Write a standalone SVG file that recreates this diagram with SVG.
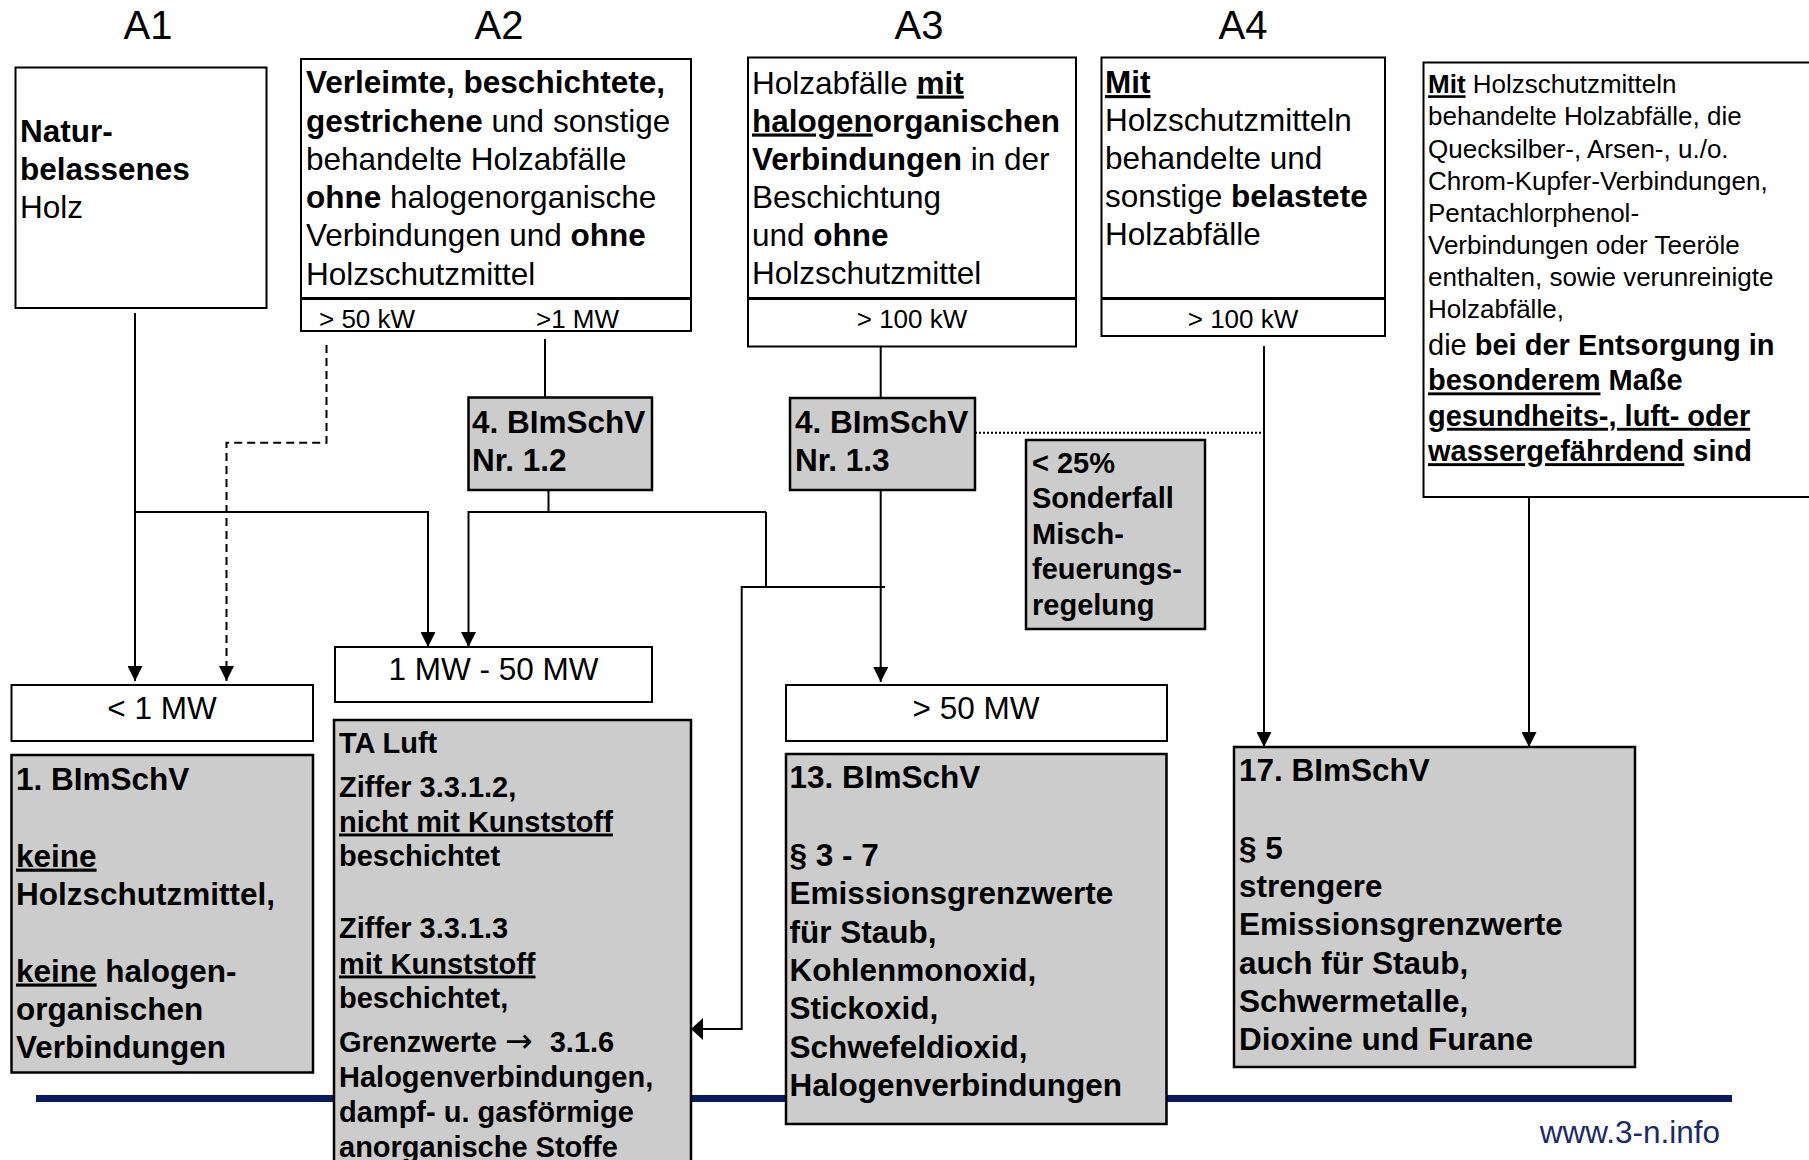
<svg xmlns="http://www.w3.org/2000/svg" width="1809" height="1160" viewBox="0 0 1809 1160">
<style>
text{font-family:"Liberation Sans",Arial,sans-serif;fill:#000}
.t{font-size:31.5px}
.s{font-size:26px}
.m{font-size:29px}
.h{font-size:40px}
.b{font-weight:bold}
.u{text-decoration:underline}
.box{fill:#fff;stroke:#000;stroke-width:2}
.gbox{fill:#cccccc;stroke:#000;stroke-width:2.5}
.div{stroke:#000;stroke-width:3}
.ln{fill:none;stroke:#000;stroke-width:2}
.dash{stroke-dasharray:8,5}
.dot{stroke-dasharray:2,2}
</style>
<defs>
<marker id="arr" markerUnits="userSpaceOnUse" markerWidth="15" markerHeight="15" viewBox="0 0 15 15" refX="15" refY="7.5" orient="auto"><path d="M0,0 L15,7.5 L0,15 z" fill="#000"/></marker>
<marker id="arrL" markerUnits="userSpaceOnUse" markerWidth="12" markerHeight="22" viewBox="0 0 12 22" refX="12" refY="11" orient="auto"><path d="M0,0 L12,11 L0,22 z" fill="#000"/></marker>
</defs>
<rect x="0" y="0" width="1809" height="1160" fill="#fff"/>
<g id="titles">
<text class="h" x="148" y="38.5" text-anchor="middle">A1</text>
<text class="h" x="499" y="38.5" text-anchor="middle">A2</text>
<text class="h" x="919" y="38.5" text-anchor="middle">A3</text>
<text class="h" x="1243" y="38.5" text-anchor="middle">A4</text>
</g>
<rect id="footer-line" x="36" y="1095" width="1696" height="7" fill="#0c1a5e"/>
<g id="connectors">
<path class="ln" d="M135,313 V681" marker-end="url(#arr)"/>
<path class="ln" d="M135,512 H428 V647" marker-end="url(#arr)"/>
<path class="ln dash" d="M326.5,345 V442.7 H226.5 V681" marker-end="url(#arr)"/>
<path class="ln" d="M545,339 V397"/>
<path class="ln" d="M548.5,490 V512"/>
<path class="ln" d="M766,512 H468.5 V647" marker-end="url(#arr)"/>
<path class="ln" d="M766,512 V587"/>
<path class="ln" d="M741.7,587 H885"/>
<path class="ln" d="M741.7,586 V1029 H691" marker-end="url(#arrL)"/>
<path class="ln" d="M880.7,338 V398"/>
<path class="ln" d="M880.7,490 V682" marker-end="url(#arr)"/>
<path class="ln dot" d="M975,432.7 H1264"/>
<path class="ln" d="M1264,346 V747" marker-end="url(#arr)"/>
<path class="ln" d="M1529,497 V747" marker-end="url(#arr)"/>
</g>
<g id="a1">
<rect class="box" x="15.5" y="67.5" width="251" height="240.5"/>
<text class="t b" x="20" y="142">Natur-</text>
<text class="t b" x="20" y="180">belassenes</text>
<text class="t" x="20" y="218">Holz</text>
</g>
<g id="a2">
<rect class="box" x="301" y="59" width="390" height="272"/>
<line class="div" x1="301" y1="298.5" x2="691" y2="298.5"/>
<text class="t b" x="306" y="93.2">Verleimte, beschichtete,</text>
<text class="t" x="306" y="131.5"><tspan class="b">gestrichene</tspan> und sonstige</text>
<text class="t" x="306" y="169.8">behandelte Holzabfälle</text>
<text class="t" x="306" y="208.1"><tspan class="b">ohne</tspan> halogenorganische</text>
<text class="t" x="306" y="246.4">Verbindungen und <tspan class="b">ohne</tspan></text>
<text class="t" x="306" y="284.7">Holzschutzmittel</text>
<text class="s" x="319" y="328">&gt; 50 kW</text>
<text class="s" x="536" y="328">&gt;1 MW</text>
</g>
<g id="a3">
<rect class="box" x="748" y="57.5" width="328" height="289"/>
<line class="div" x1="748" y1="298.5" x2="1076" y2="298.5"/>
<text class="t" x="752" y="93.5">Holzabfälle <tspan class="b u">mit</tspan></text>
<text class="t b" x="752" y="131.5"><tspan class="u">halogen</tspan>organischen</text>
<text class="t" x="752" y="169.5"><tspan class="b">Verbindungen</tspan> in der</text>
<text class="t" x="752" y="207.8">Beschichtung</text>
<text class="t" x="752" y="246">und <tspan class="b">ohne</tspan></text>
<text class="t" x="752" y="284">Holzschutzmittel</text>
<text class="s" x="912" y="328" text-anchor="middle">&gt; 100 kW</text>
</g>
<g id="a4">
<rect class="box" x="1101.5" y="57.5" width="283.5" height="278.5"/>
<line class="div" x1="1101.5" y1="298.5" x2="1385" y2="298.5"/>
<text class="t b u" x="1105" y="93">Mit</text>
<text class="t" x="1105" y="131">Holzschutzmitteln</text>
<text class="t" x="1105" y="168.8">behandelte und</text>
<text class="t" x="1105" y="207">sonstige <tspan class="b">belastete</tspan></text>
<text class="t" x="1105" y="245">Holzabfälle</text>
<text class="s" x="1243" y="328" text-anchor="middle">&gt; 100 kW</text>
</g>
<g id="a5">
<rect class="box" x="1423.5" y="62.5" width="400" height="434.5"/>
<text class="s" x="1428" y="93.3"><tspan class="b u">Mit</tspan> Holzschutzmitteln</text>
<text class="s" x="1428" y="125.4">behandelte Holzabfälle, die</text>
<text class="s" x="1428" y="157.5">Quecksilber-, Arsen-, u./o.</text>
<text class="s" x="1428" y="189.6">Chrom-Kupfer-Verbindungen,</text>
<text class="s" x="1428" y="221.7">Pentachlorphenol-</text>
<text class="s" x="1428" y="253.8">Verbindungen oder Teeröle</text>
<text class="s" x="1428" y="285.9">enthalten, sowie verunreinigte</text>
<text class="s" x="1428" y="318">Holzabfälle,</text>
<text class="m" x="1428" y="355">die <tspan class="b">bei der Entsorgung in</tspan></text>
<text class="m b" x="1428" y="390.4"><tspan class="u">besonderem</tspan> Maße</text>
<text class="m b u" x="1428" y="425.8">gesundheits-, luft- oder</text>
<text class="m b" x="1428" y="461.2"><tspan class="u">wassergefährdend</tspan> sind</text>
</g>
<g id="bimschv4-12">
<rect class="gbox" x="468.5" y="397.5" width="183.5" height="92.5"/>
<text class="t b" x="472" y="432.7">4. BImSchV</text>
<text class="t b" x="472" y="471">Nr. 1.2</text>
</g>
<g id="bimschv4-13">
<rect class="gbox" x="790" y="398" width="185" height="92"/>
<text class="t b" x="795" y="432.5">4. BImSchV</text>
<text class="t b" x="795" y="470.5">Nr. 1.3</text>
</g>
<g id="sonderfall">
<rect class="gbox" x="1026" y="440" width="179" height="189"/>
<text class="m b" x="1032" y="472.7">&lt; 25%</text>
<text class="m b" x="1032" y="508.2">Sonderfall</text>
<text class="m b" x="1032" y="543.7">Misch-</text>
<text class="m b" x="1032" y="579.2">feuerungs-</text>
<text class="m b" x="1032" y="614.7">regelung</text>
</g>
<g id="lt1mw">
<rect class="box" x="11.5" y="685" width="301.5" height="56"/>
<text class="t" x="162" y="719" text-anchor="middle">&lt; 1 MW</text>
</g>
<g id="mw1-50">
<rect class="box" x="335" y="647" width="317" height="55"/>
<text class="t" x="493.5" y="680" text-anchor="middle">1 MW - 50 MW</text>
</g>
<g id="gt50mw">
<rect class="box" x="786" y="685" width="381" height="56"/>
<text class="t" x="976" y="719" text-anchor="middle">&gt; 50 MW</text>
</g>
<g id="bimschv1">
<rect class="gbox" x="11.5" y="755" width="301.5" height="317.5"/>
<text class="t b" x="16" y="790">1. BImSchV</text>
<text class="t b u" x="16" y="866.6">keine</text>
<text class="t b" x="16" y="905">Holzschutzmittel,</text>
<text class="t b" x="16" y="981.5"><tspan class="u">keine</tspan> halogen-</text>
<text class="t b" x="16" y="1019.8">organischen</text>
<text class="t b" x="16" y="1058">Verbindungen</text>
</g>
<g id="taluft">
<rect class="gbox" x="334" y="720" width="357" height="460"/>
<text class="m b" x="339" y="753">TA Luft</text>
<text class="m b" x="339" y="797">Ziffer 3.3.1.2,</text>
<text class="m b u" x="339" y="831.5">nicht mit Kunststoff</text>
<text class="m b" x="339" y="866">beschichtet</text>
<text class="m b" x="339" y="938">Ziffer 3.3.1.3</text>
<text class="m b u" x="339" y="973.5">mit Kunststoff</text>
<text class="m b" x="339" y="1008">beschichtet,</text>
<text class="m b" x="339" y="1051.5">Grenzwerte <tspan style="font-family:'DejaVu Sans',sans-serif;font-weight:normal;font-size:33px">→</tspan> <tspan dx="9">3.1.6</tspan></text>
<text class="m b" x="339" y="1086.5">Halogenverbindungen,</text>
<text class="m b" x="339" y="1122">dampf- u. gasförmige</text>
<text class="m b" x="339" y="1157">anorganische Stoffe</text>
</g>
<g id="bimschv13">
<rect class="gbox" x="786" y="754" width="380.5" height="370"/>
<text class="t b" x="789.5" y="788">13. BImSchV</text>
<text class="t b" x="789.5" y="866">§ 3 - 7</text>
<text class="t b" x="789.5" y="904.3">Emissionsgrenzwerte</text>
<text class="t b" x="789.5" y="942.6">für Staub,</text>
<text class="t b" x="789.5" y="980.9">Kohlenmonoxid,</text>
<text class="t b" x="789.5" y="1019.2">Stickoxid,</text>
<text class="t b" x="789.5" y="1057.5">Schwefeldioxid,</text>
<text class="t b" x="789.5" y="1095.8">Halogenverbindungen</text>
</g>
<g id="bimschv17">
<rect class="gbox" x="1234" y="747" width="401" height="320"/>
<text class="t b" x="1239" y="781">17. BImSchV</text>
<text class="t b" x="1239" y="858.5">§ 5</text>
<text class="t b" x="1239" y="897">strengere</text>
<text class="t b" x="1239" y="935.3">Emissionsgrenzwerte</text>
<text class="t b" x="1239" y="973.6">auch für Staub,</text>
<text class="t b" x="1239" y="1011.9">Schwermetalle,</text>
<text class="t b" x="1239" y="1050.2">Dioxine und Furane</text>
</g>
<text id="url" class="t" x="1720" y="1143" text-anchor="end" style="fill:#1b2a6b">www.3-n.info</text>
</svg>
